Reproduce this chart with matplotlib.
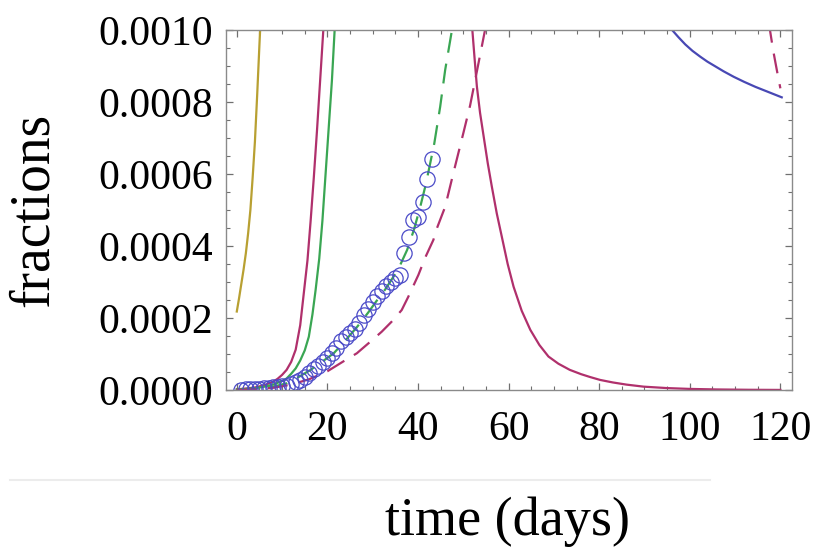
import numpy as np
import matplotlib
matplotlib.use("Agg")
import matplotlib.pyplot as plt
from matplotlib.lines import Line2D
from matplotlib.ticker import MultipleLocator, FormatStrFormatter

plt.rcParams['font.family'] = ['Liberation Serif', 'DejaVu Serif']

# fractions in units of 1e-4
# observed data (open circles)
obs_t = np.arange(1, 44)
obs_y = [0.01, 0.02, 0.02, 0.03, 0.04, 0.05, 0.06, 0.07, 0.09, 0.10,
         0.12, 0.16, 0.21, 0.28, 0.37, 0.46, 0.58, 0.68, 0.78, 0.88,
         1.02, 1.18, 1.35, 1.48, 1.58, 1.70, 1.86, 2.08, 2.26, 2.45,
         2.62, 2.76, 2.88, 3.00, 3.10, 3.20, 3.80, 4.26, 4.72, 4.81,
         5.23, 5.85, 6.41]

# olive solid
olive_t = [0, 0.5, 1, 1.5, 2, 2.5, 3, 3.5, 4, 4.5, 5, 5.15, 5.3]
olive_y = [2.18, 2.55, 2.95, 3.35, 3.8, 4.35, 5.0, 5.9, 6.9, 8.2, 9.6, 10.0, 10.4]

# magenta solid, rising
mag1_t = [0, 2, 4, 6, 8, 9, 10, 11, 12, 13, 14, 14.8, 15.6, 16.3, 17, 17.7, 18.4, 19.1, 19.3]
mag1_y = [0.02, 0.04, 0.07, 0.13, 0.23, 0.31, 0.42, 0.56, 0.78, 1.12, 1.8, 2.7, 3.6, 4.7, 5.9, 7.2, 8.6, 10.0, 10.4]

# green solid, rising
grn1_t = [0, 2, 4, 6, 8, 10, 11, 12, 13, 14, 15, 15.9, 16.7, 17.4, 18.2, 18.9, 19.6, 20.3, 21, 21.6, 21.8]
grn1_y = [0.01, 0.03, 0.05, 0.09, 0.15, 0.25, 0.32, 0.45, 0.6, 0.82, 1.1, 1.48, 2.1, 2.78, 3.65, 4.7, 6.0, 7.3, 8.6, 10.0, 10.4]

# green dashed
grn2_t = [0, 5, 8, 11.1, 13.5, 16.3, 19, 21.4, 24, 26.6, 29, 31.0, 32.8, 34.6, 36.1, 37.6,
          39.1, 40.5, 41.7, 42.7, 43.6, 44.9, 46.0, 47.5, 47.8]
grn2_y = [0.0, 0.04, 0.09, 0.19, 0.35, 0.56, 0.8, 1.02, 1.38, 1.76, 2.15, 2.5, 2.8, 3.15, 3.48, 3.89,
          4.45, 5.09, 5.7, 6.3, 6.85, 7.87, 8.89, 10.0, 10.25]

# magenta dashed, rising
mag2_t = [0, 4, 8, 12, 16, 20, 23.6, 26.5, 30.2, 32, 34.2, 36.4, 37.9, 40.1, 41.6,
          43.4, 44.2, 46.0, 47.8, 50.0, 51.5, 53.0, 54.8, 55.1]
mag2_y = [0.0, 0.02, 0.06, 0.15, 0.3, 0.52, 0.8, 1.02, 1.42, 1.62, 1.9, 2.22, 2.6, 3.2, 3.68,
          4.17, 4.5, 5.09, 6.02, 7.13, 7.9, 8.85, 10.0, 10.2]

# magenta solid, decaying
mag3_t = [51.8, 52.0, 52.5, 53.0, 53.7, 54.5, 55.4, 56.3, 57.4, 58.5, 59.8, 61.1, 62.9, 64.8,
          66.8, 68.8, 71, 73.5, 76, 78, 80.2, 83, 86, 89.8, 95, 100, 106, 113, 120]
mag3_y = [10.5, 10.0, 9.2, 8.43, 7.7, 7.04, 6.3, 5.65, 4.9, 4.26, 3.5, 2.87, 2.2, 1.67,
          1.25, 0.93, 0.73, 0.56, 0.44, 0.36, 0.28, 0.21, 0.15, 0.093, 0.053, 0.03, 0.015, 0.006, 0.002]

# blue solid, right
blu_t = [95.6, 96.1, 97.5, 99, 100.6, 102.3, 103.9, 105.5, 107.5, 109.7, 112, 114.5, 117.3, 120.3]
blu_y = [10.1, 10.0, 9.8, 9.6, 9.42, 9.26, 9.12, 9.0, 8.85, 8.7, 8.56, 8.42, 8.28, 8.13]

# magenta dashed, right
mag4_t = [117.6, 117.7, 118.4, 118.9, 119.5, 120.0]
mag4_y = [10.2, 10.0, 9.44, 9.1, 8.7, 8.38]

magenta = '#b0306c'
green = '#3aa653'
olive = '#b8a032'
blue = '#4848b4'

fig = plt.figure(figsize=(8.15, 5.53), dpi=100)
ax = fig.add_axes([225.7/815, 1 - 390/553, (791.7 - 225.7)/815, 360/553])

s = 1e-4
ax.plot(olive_t, np.array(olive_y)*s, color=olive, lw=1.6)
ax.plot(mag1_t, np.array(mag1_y)*s, color=magenta, lw=1.6)
ax.plot(grn1_t, np.array(grn1_y)*s, color=green, lw=1.6)
ax.plot(grn2_t, np.array(grn2_y)*s, color=green, lw=1.6, dashes=(9, 5))
ax.plot(mag2_t, np.array(mag2_y)*s, color=magenta, lw=1.6, dashes=(9, 5))
ax.plot(mag3_t, np.array(mag3_y)*s, color=magenta, lw=1.6)
ax.plot(blu_t, np.array(blu_y)*s, color=blue, lw=1.6)
ax.plot(mag4_t, np.array(mag4_y)*s, color=magenta, lw=1.6, dashes=(9, 5))
ax.plot(obs_t, np.array(obs_y)*s, 'o', mfc='none', mec='#4a4ac8', ms=11, mew=0.9)

ax.set_xlim(-2.45, 122.5)
ax.set_ylim(0, 0.001)
ax.xaxis.set_major_locator(MultipleLocator(20))
ax.xaxis.set_minor_locator(MultipleLocator(5))
ax.yaxis.set_major_locator(MultipleLocator(0.0002))
ax.yaxis.set_minor_locator(MultipleLocator(0.00005))
ax.yaxis.set_major_formatter(FormatStrFormatter('%.4f'))

for sp in ax.spines.values():
    sp.set_color('#8a8a8a')
    sp.set_linewidth(1.0)
ax.tick_params(which='both', direction='in', top=True, right=True, color='#707070')
ax.tick_params(which='major', length=5, width=0.9, labelsize=30)
ax.tick_params(which='minor', length=3, width=0.8)
ax.tick_params(axis='x', which='major', pad=15)
ax.tick_params(axis='y', which='major', pad=9)

fig.text(0.042, 0.62, 'fractions', rotation=90, ha='center', va='center', fontsize=40)
fig.text(508/815, 1 - 535/553, 'time (days)', ha='center', va='baseline', fontsize=39)
fig.add_artist(Line2D([10/815, 710/815], [1 - 480/553]*2, color='#ececec', lw=1.5))

fig.savefig('out.png', dpi=100)
